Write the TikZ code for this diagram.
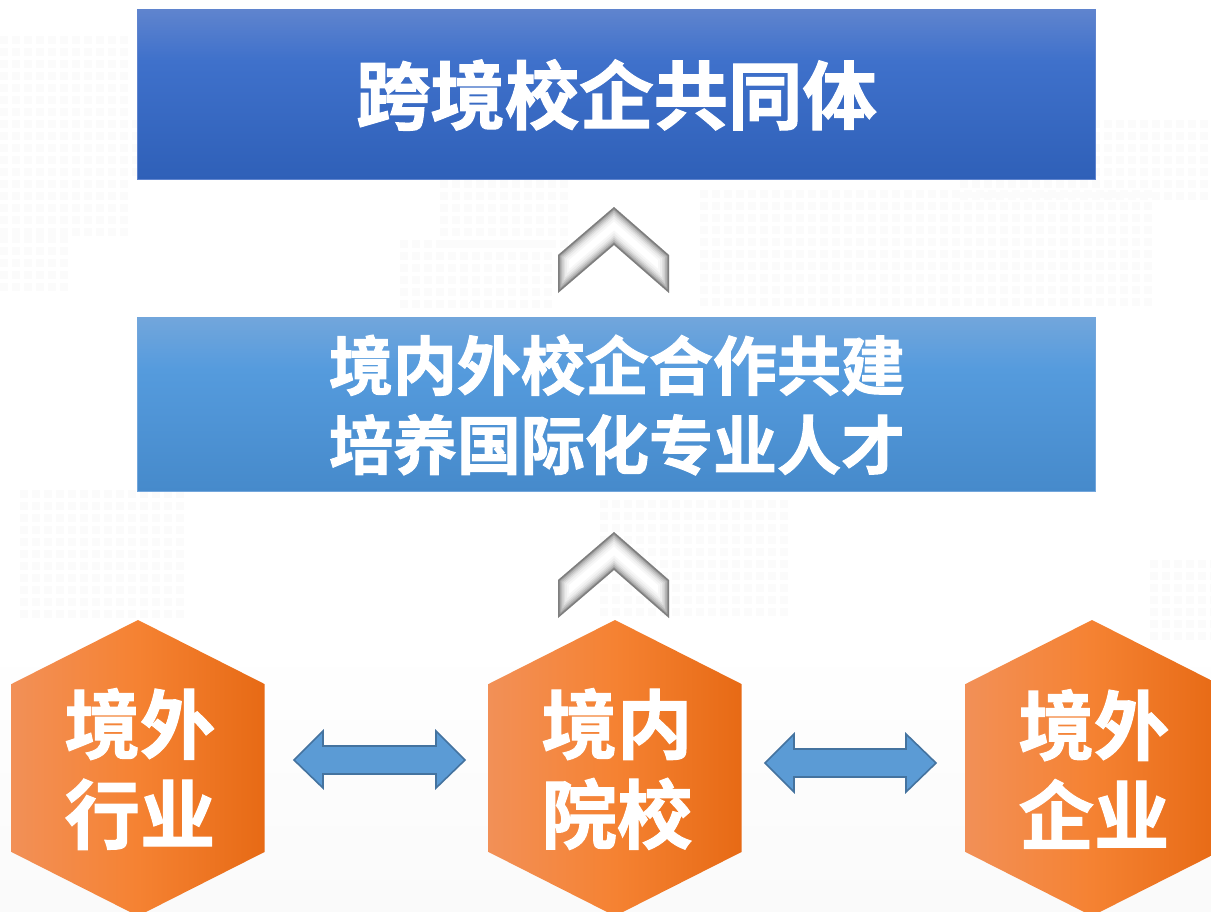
\documentclass[tikz,border=0pt]{standalone}
\usepackage{fontspec}
\setmainfont{Noto Sans CJK SC Bold}
\definecolor{boxA}{HTML}{5F84CE}
\definecolor{boxB}{HTML}{3F71CB}
\definecolor{boxC}{HTML}{2F60B8}
\definecolor{boxD}{HTML}{72A6DC}
\definecolor{boxE}{HTML}{559BDD}
\definecolor{boxF}{HTML}{468ACB}
\definecolor{hexA}{HTML}{F29057}
\definecolor{hexB}{HTML}{F58232}
\definecolor{hexC}{HTML}{E76A15}
\definecolor{arrowfill}{HTML}{5B9BD5}
\definecolor{arrowline}{HTML}{44739F}
\pgfdeclareverticalshading{topbox}{100bp}{color(0bp)=(boxC);color(25bp)=(boxC);color(60bp)=(boxB);color(75bp)=(boxA);color(100bp)=(boxA)}
\pgfdeclareverticalshading{midbox}{100bp}{color(0bp)=(boxF);color(25bp)=(boxF);color(60bp)=(boxE);color(75bp)=(boxD);color(100bp)=(boxD)}
\pgfdeclarehorizontalshading{hexshade}{100bp}{color(0bp)=(hexA);color(25bp)=(hexA);color(50bp)=(hexB);color(75bp)=(hexC);color(100bp)=(hexC)}
\tikzset{
  x=0.75pt,y=-0.75pt,
  hextext/.style={text=white,align=center,font=\fontsize{56.5}{67.5}\selectfont,inner sep=0pt},
  hexagonbody/.style={shading=hexshade,draw=none},
  blockarrow/.style={fill=arrowfill,draw=arrowline,line width=1.2pt,line join=miter},
}
\newcommand{\chev}[1]{%
  \begin{scope}[yshift=#1*-0.75pt]
    \fill[white] (614,207) -- (669,255) -- (669,293) -- (614,245) -- (558,293) -- (558,255) -- cycle;
    \begin{scope}
      \clip (614,207) -- (669,255) -- (669,293) -- (614,245) -- (558,293) -- (558,255) -- cycle;
      \foreach \w/\o in {22/0.03,18/0.04,14/0.06,11/0.08,8/0.1,5/0.14,3/0.2}
        \draw[black,opacity=\o,line width=\w*0.75pt,line join=miter]
          (614,207) -- (669,255) -- (669,293) -- (614,245) -- (558,293) -- (558,255) -- cycle;
    \end{scope}
  \end{scope}%
}
\begin{document}
\begin{tikzpicture}
\useasboundingbox (0,0) rectangle (1211,911);
\clip (0,0) rectangle (1211,911);
\fill[white] (0,0) rectangle (1211,911);
\shade[top color=white,bottom color=black!2] (0,640) rectangle (1211,911);
% faint map texture
\foreach \xa/\ya/\xb/\yb in {0/36/130/235, 0/235/60/290, 120/120/135/170, 440/180/560/240, 700/190/1150/300, 400/240/550/310, 960/120/1200/200, 20/490/180/620, 600/500/790/610, 1150/560/1211/640, 230/340/300/420}
  \foreach \i in {\xa,\numexpr\xa+12\relax,...,\xb} \foreach \j in {\ya,\numexpr\ya+12\relax,...,\yb}
    \fill[black!1.6] (\i,\j) rectangle ++(8,8);
% top box
\path[shading=topbox,draw=boxA,line width=0.5pt] (137.5,9.5) rectangle (1095,179);
\node[text=white,font=\fontsize{55.8}{60}\selectfont,inner sep=0pt] (title) at (616.5,95) {\addfontfeature{FakeBold=1.5}跨境校企共同体};
% middle box
\path[shading=midbox,draw=boxD,line width=0.5pt] (137.5,317.5) rectangle (1095,491);
\node[text=white,align=center,font=\fontsize{48}{59.5}\selectfont,inner sep=0pt] (mid) at (617,405) {\addfontfeature{FakeBold=1.5}境内外校企合作共建\\\addfontfeature{FakeBold=1.5}培养国际化专业人才};
% chevrons
\chev{0}
\chev{325}
% hexagons
\foreach \cx in {138,615,1092}
  \path[hexagonbody] (\cx,620) -- ++(126.5,64) -- ++(0,168) -- ++(-126.5,64) -- ++(-126.5,-64) -- ++(0,-168) -- cycle;
\node[hextext] (hexa) at (140,769) {\addfontfeature{FakeBold=1.5}境外\\\addfontfeature{FakeBold=1.5}行业};
\node[hextext] (hexb) at (617,769) {\addfontfeature{FakeBold=1.5}境内\\\addfontfeature{FakeBold=1.5}院校};
\node[hextext] (hexc) at (1094,769) {\addfontfeature{FakeBold=1.5}境外\\\addfontfeature{FakeBold=1.5}企业};
% double arrows
\draw[blockarrow] (294,760) -- (323,731) -- (323,746) -- (436,746) -- (436,731) -- (465,760) -- (436,788) -- (436,774) -- (323,774) -- (323,788) -- cycle;
\draw[blockarrow] (765,763) -- (794,734) -- (794,749) -- (906,749) -- (906,734) -- (936,763) -- (906,792) -- (906,777) -- (794,777) -- (794,792) -- cycle;
\end{tikzpicture}
\end{document}
